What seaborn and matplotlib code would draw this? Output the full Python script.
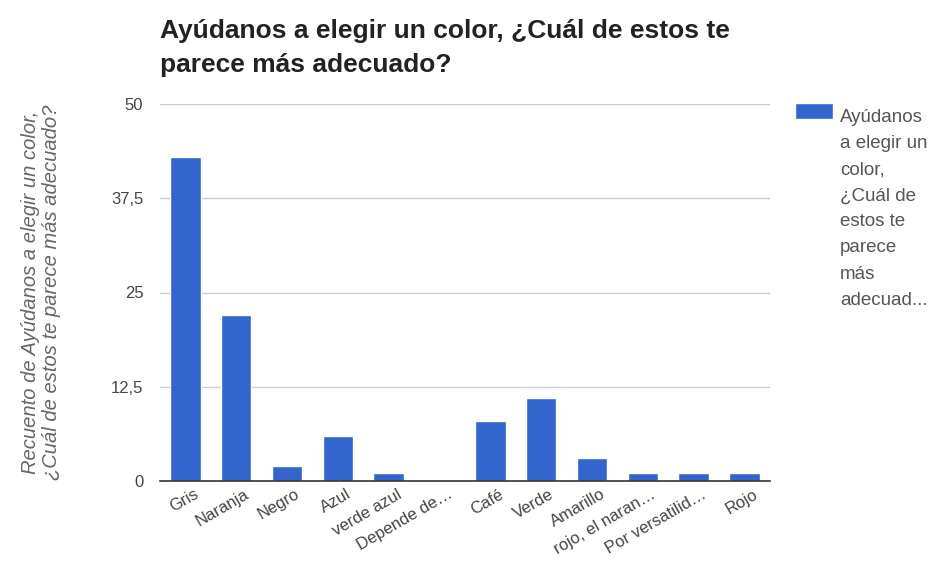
import matplotlib
matplotlib.use("Agg")
import matplotlib.pyplot as plt
import matplotlib.transforms as mtransforms
import matplotlib.patches as mpatches
from matplotlib.offsetbox import HPacker, VPacker
from matplotlib.legend_handler import HandlerPatch, update_from_first_child
import seaborn as sns
import pandas as pd

categories = ["Gris", "Naranja", "Negro", "Azul", "verde azul", "Depende de…",
              "Café", "Verde", "Amarillo", "rojo, el naran…", "Por versatilid…", "Rojo"]
counts = [43, 22, 2, 6, 1, 0, 8, 11, 3, 1, 1, 1]
y_ticks = [0, 12.5, 25, 37.5, 50]
y_tick_labels = ["0", "12,5", "25", "37,5", "50"]
title = "Ayúdanos a elegir un color, ¿Cuál de estos te\nparece más adecuado?"
y_label = "Recuento de Ayúdanos a elegir un color,\n¿Cuál de estos te parece más adecuado?"
legend_label = "Ayúdanos\na elegir un\ncolor,\n¿Cuál de\nestos te\nparece\nmás\nadecuad..."

sns.set_theme(style="white")
plt.rcParams['font.family'] = ['Liberation Sans', 'DejaVu Sans']

df = pd.DataFrame({"cat": categories, "n": counts})

fig = plt.figure(figsize=(9.42, 5.76), dpi=100)
ax = fig.add_axes([160/942, 1-481/576, 610/942, 377/576])

sns.barplot(data=df, x="cat", y="n", color="#3366CC", width=0.6, saturation=1,
            ax=ax, label=legend_label, zorder=3)

ax.set_ylim(0, 50)
ax.set_yticks(y_ticks)
ax.set_yticklabels(y_tick_labels)
ax.yaxis.grid(True, color="#cccccc", linewidth=1, zorder=0)
ax.set_axisbelow(True)
for s in ["top", "right", "left"]:
    ax.spines[s].set_visible(False)
ax.spines["bottom"].set_color("#333333")
ax.spines["bottom"].set_linewidth(1.2)
ax.spines["bottom"].set_zorder(5)
ax.tick_params(axis="both", length=0, colors="#444444", labelsize=12)
ax.tick_params(axis="y", pad=12)
ax.tick_params(axis="x", pad=4)
offset = mtransforms.ScaledTranslation(8/100, 0, fig.dpi_scale_trans)
for lbl in ax.get_xticklabels():
    lbl.set_rotation(30)
    lbl.set_ha("right")
    lbl.set_rotation_mode("anchor")
    lbl.set_transform(lbl.get_transform() + offset)
ax.set_xlabel("")
ax.set_ylabel(y_label, fontsize=14.5, color="#666666", style="italic", labelpad=36,
              linespacing=1.1)

fig.text(160/942, 1-48/576, title, fontsize=19, fontweight="bold", color="#222222",
         ha="left", va="center", linespacing=1.5)

LIFT = 6 * 72 / 100  # raise the legend swatch a few pixels, in points


def swatch(legend, orig_handle, xdescent, ydescent, width, height, fontsize):
    return mpatches.Rectangle((-xdescent, -ydescent + LIFT), width, height)


handles, labels = ax.get_legend_handles_labels()
leg = ax.legend(handles, labels, loc="upper left",
                bbox_to_anchor=(795/942, 1-109/576),
                bbox_transform=fig.transFigure, frameon=False, fontsize=13.5,
                handlelength=38/18.75, handleheight=18/18.75, handletextpad=7/18.75,
                labelspacing=0, borderpad=0, borderaxespad=0,
                handler_map={type(handles[0]): HandlerPatch(patch_func=swatch,
                                                            update_func=update_from_first_child)})


def set_top(box):
    if isinstance(box, HPacker):
        box.align = "top"
    if isinstance(box, (HPacker, VPacker)):
        for c in box.get_children():
            set_top(c)


set_top(leg._legend_handle_box)
for t in leg.get_texts():
    t.set_color("#555555")
    t.set_linespacing(1.70)

fig.savefig("out.png", dpi=100)
